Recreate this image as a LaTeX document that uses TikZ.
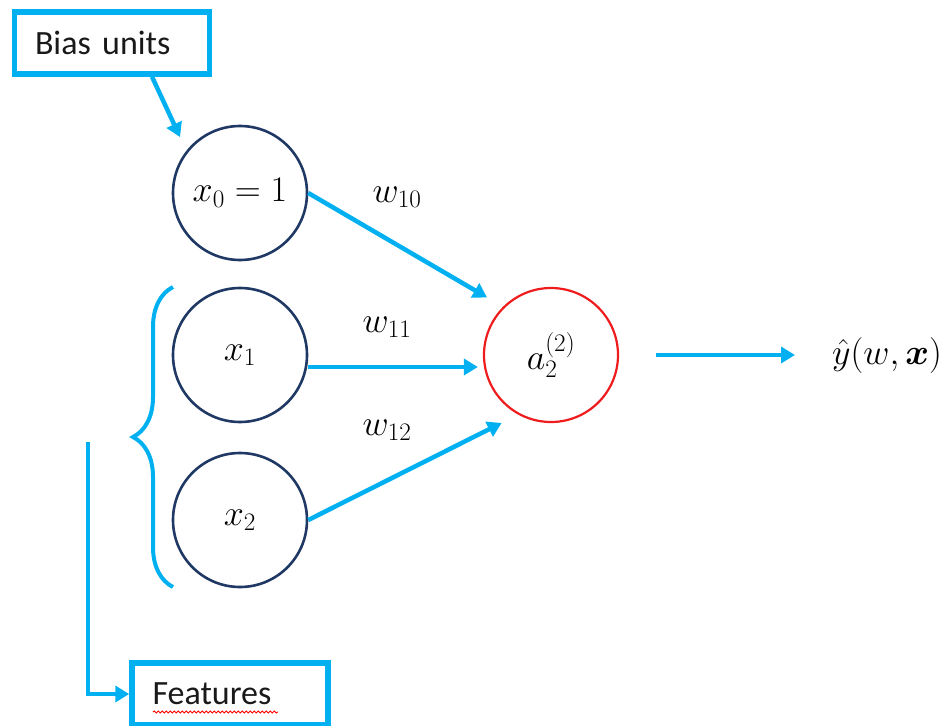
\documentclass[tikz,border=0pt]{standalone}
\usepackage{fix-cm}
\usepackage{amsmath}
\usepackage{bm}
\usepackage{fontspec}
\setmainfont{Carlito}
\usetikzlibrary{arrows.meta,calc,decorations.pathreplacing,decorations.pathmorphing}
\definecolor{cyanb}{HTML}{00B0F0}
\definecolor{navy}{HTML}{1F3864}
\definecolor{redc}{HTML}{EE1C1C}
\begin{document}
\begin{tikzpicture}[x=1pt,y=-1pt,
  neuron/.style={circle, draw=navy, line width=2.6pt, minimum size=134pt, inner sep=0pt, font=\fontsize{36}{42}\selectfont},
  outn/.style={neuron, draw=redc, line width=2.2pt},
  lbl/.style={font=\fontsize{36}{42}\selectfont, inner sep=0pt},
  callout/.style={draw=cyanb, line width=5.5pt, minimum height=62pt, inner xsep=20.5pt, align=left, font=\fontsize{34}{40}\selectfont, text=black!90},
  arr/.style={draw=cyanb, line width=4.5pt, -{Triangle[length=14pt,width=16pt]}},
  bracestyle/.style={draw=cyanb, line width=4pt, decorate, decoration={brace, amplitude=40pt}},
  squiggle/.style={draw=red, line width=0.9pt, decorate, decoration={snake, amplitude=1pt, segment length=4pt}}
]
\useasboundingbox (0,0) rectangle (943,726);

\node[callout, text width=154pt] (bias) at (112,43) {Bias units};
\node[neuron] (x0) at (240,193) {$x_0=1$};
\node[neuron] (x1) at (240,355) {$x_1$};
\node[neuron] (x2) at (240,520) {$x_2$};
\node[outn] (a) at (551,355) {$a_2^{(2)}$};
\node[lbl, anchor=west] (yhat) at (832,355) {$\hat{y}(w,\bm{x})$};
\node[lbl] (w10) at (397,197) {$w_{10}$};
\node[lbl] (w11) at (387,327) {$w_{11}$};
\node[lbl] (w12) at (387,430) {$w_{12}$};
\node[callout, text width=155pt] (feat) at (230,694) {Features};

\coordinate (bt) at ($(x0.center)+(137:82pt)$);
\draw[arr] ([xshift=40pt]bias.south) -- (bt);

\coordinate (t0) at ($(a.center)+(138:86pt)$);
\coordinate (t2) at ($(a.center)+(234:84pt)$);
\draw[arr] (x0.east) -- (t0);
\draw[arr] ([yshift=-12pt]x1.east) -- ([yshift=-12pt,xshift=-5pt]a.west);
\draw[arr] (x2.east) -- (t2);
\draw[arr] ([xshift=37pt]a.east) -- ([xshift=-37pt]yhat.west);

\draw[bracestyle] (173,587) -- (173,287);

\coordinate (fs) at (88,442);
\draw[arr] (fs) |- (feat.west);

\draw[squiggle] (153,712) -- (278,712);
\end{tikzpicture}
\end{document}
